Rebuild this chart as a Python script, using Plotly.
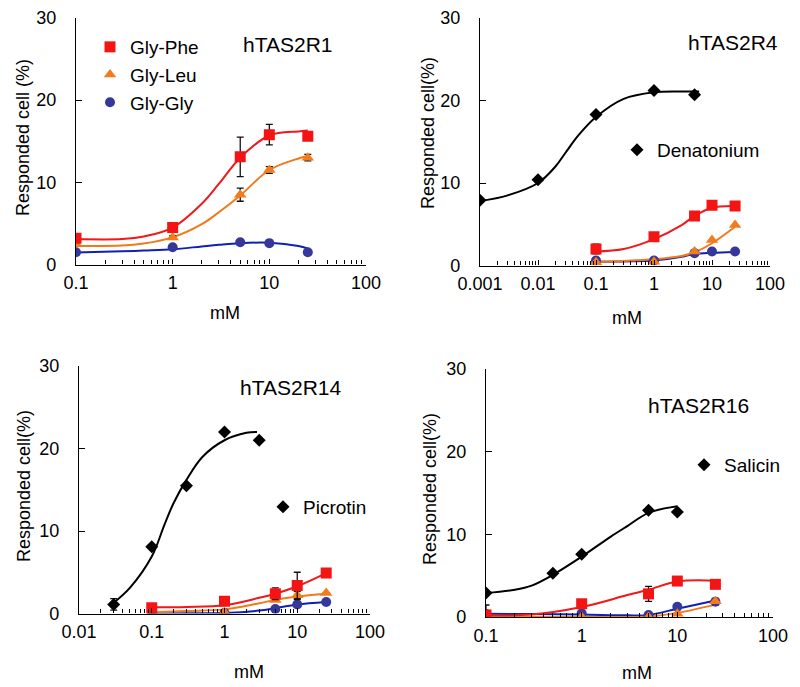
import plotly.graph_objects as go

# ---------------- data ----------------
# common dipeptide concentrations (mM)
gly_conc = [0.1, 1, 5, 10, 25]
fit_conc_p1 = [0.1, 0.3, 0.5, 1, 2, 3, 5, 10, 20, 25]
fit_conc = [0.1, 0.3, 1, 3, 5, 10, 25]

# Panel 1: hTAS2R1
r1_phe = [3.2, 4.5, 13.1, 15.8, 15.6]
r1_phe_err = [0, 0.3, 2.4, 1.25, 0.3]
r1_leu = [2.5, 3.3, 8.5, 11.5, 13.0]
r1_leu_err = [0, 0.2, 0.8, 0.4, 0.4]
r1_gly = [1.5, 2.1, 2.7, 2.6, 1.5]
r1_phe_fit = [3.1, 3.1, 3.4, 4.5, 7.4, 9.8, 13.0, 15.7, 16.2, 16.3]
r1_leu_fit = [2.25, 2.3, 2.55, 3.3, 4.9, 6.35, 8.4, 11.5, 12.9, 13.2]
r1_gly_fit = [1.45, 1.6, 1.7, 1.85, 2.2, 2.4, 2.6, 2.65, 2.25, 1.95]

# Panel 2: hTAS2R4
den_conc = [0.001, 0.01, 0.1, 1, 5]
den_resp = [7.9, 10.4, 18.3, 21.2, 20.7]
den_fit_conc = [0.001, 0.003, 0.01, 0.02, 0.03, 0.05, 0.1, 0.3, 1, 3, 6]
den_fit = [7.8, 8.5, 10.0, 12.0, 13.7, 15.8, 18.0, 20.2, 21.0, 21.1, 21.1]
r4_phe = [2.0, 3.5, 6.0, 7.3, 7.2]
r4_phe_err = [0.6, 0, 0, 0, 0]
r4_leu = [0.4, 0.45, 1.7, 3.1, 4.9]
r4_gly = [0.6, 0.6, 1.5, 1.7, 1.7]
r4_phe_fit = [1.7, 2.0, 3.2, 4.9, 6.0, 7.0, 7.2]
r4_leu_fit = [0.45, 0.55, 0.75, 1.15, 1.6, 2.7, 4.7]
r4_gly_fit = [0.45, 0.5, 0.6, 1.05, 1.4, 1.55, 1.65]

# Panel 3: hTAS2R14
pic_conc = [0.03, 0.1, 0.3, 1, 3]
pic_resp = [1.1, 8.1, 15.5, 22.0, 21.0]
pic_err = [0.7, 0, 0, 0, 0]
pic_fit_conc = [0.03, 0.05, 0.1, 0.15, 0.2, 0.3, 0.5, 1, 2, 2.8]
pic_fit = [1.3, 3.1, 6.9, 10.8, 13.4, 16.2, 19.0, 21.0, 21.9, 22.0]
r14_phe = [0.7, 1.5, 2.4, 3.4, 4.9]
r14_phe_err = [0, 0, 0.7, 1.6, 0]
r14_leu = [0.0, 0.15, 1.65, 2.2, 2.5]
r14_leu_err = [0, 0, 0, 0.5, 0]
r14_gly = [0.0, 0.05, 0.55, 1.1, 1.4]
r14_phe_fit = [0.75, 0.8, 1.0, 1.9, 2.4, 3.3, 4.9]
r14_leu_fit = [0.15, 0.3, 0.5, 1.25, 1.65, 2.05, 2.4]
r14_gly_fit = [0.0, 0.02, 0.05, 0.35, 0.65, 1.1, 1.4]

# Panel 4: hTAS2R16
sal_conc = [0.1, 0.5, 1, 5, 10]
sal_resp = [2.9, 5.3, 7.6, 12.9, 12.7]
sal_fit_conc = [0.1, 0.2, 0.3, 0.5, 1, 2, 3, 5, 10]
sal_fit = [2.9, 3.3, 3.8, 5.1, 7.3, 9.7, 11.0, 12.6, 13.4]
r16_phe = [0.25, 1.6, 2.8, 4.35, 3.95]
r16_phe_err = [1.2, 0, 0.9, 0, 0]
r16_leu = [0.0, 0.0, 0.0, 0.4, 1.9]
r16_gly = [0.36, 0.45, 0.25, 1.25, 1.85]
r16_gly_err = [0, 0, 0, 0, 0.4]
r16_phe_fit = [0.2, 0.3, 1.2, 2.65, 3.3, 4.3, 4.4]
r16_leu_fit = [0.05, 0.03, 0.0, 0.0, 0.05, 0.5, 1.5]
r16_gly_fit = [0.4, 0.35, 0.3, 0.2, 0.25, 1.0, 2.0]

# axis ticks
y_ticks = [0, 10, 20, 30]
x_ticks_p1 = [0.1, 1, 10, 100]
x_labels_p1 = ["0.1", "1", "10", "100"]
x_ticks_p2 = [0.001, 0.01, 0.1, 1, 10, 100]
x_labels_p2 = ["0.001", "0.01", "0.1", "1", "10", "100"]
x_ticks_p3 = [0.01, 0.1, 1, 10, 100]
x_labels_p3 = ["0.01", "0.1", "1", "10", "100"]
x_ticks_p4 = [0.1, 1, 10, 100]
x_labels_p4 = ["0.1", "1", "10", "100"]

panel_titles = ["hTAS2R1", "hTAS2R4", "hTAS2R14", "hTAS2R16"]
y_titles = ["Responded cell (%)", "Responded cell(%)", "Responded cell(%)", "Responded cell(%)"]
x_title = "mM"
series_names = ["Gly-Phe", "Gly-Leu", "Gly-Gly"]

# ---------------- styling ----------------
FONT = "Liberation Sans, Arial, Helvetica, sans-serif"
RED_M, RED_L = "#f41414", "#f01818"
ORG_M, ORG_L = "#f47a1c", "#f07a1a"
BLU_M, BLU_L = "#35379a", "#1020b4"
BLK = "#000000"
W, H = 800, 687
OFF = 8  # the page body adds an 8px margin; positions below are window pixels


def px_x(p):
    return (p - OFF) / W


def px_y(p):
    return 1 - (p - OFF) / H


fig = go.Figure()


def minor_vals(lo, hi):
    vals = []
    e = lo
    while e < hi:
        for m in range(2, 10):
            vals.append(m * 10 ** e)
        e += 1
    return vals


def add_curve(xs, ys, color, ax):
    fig.add_trace(go.Scatter(x=xs, y=ys, mode="lines", line=dict(color=color, width=2, shape="spline", smoothing=1.0),
                             xaxis=ax[0], yaxis=ax[1], showlegend=False, hoverinfo="skip"))


def add_pts(xs, ys, color, symbol, ax, name, err=None, legend=None, size=10):
    kw = {}
    if err is not None:
        kw["error_y"] = dict(type="data", array=err, visible=True, color="#111111", thickness=1.3, width=3.5)
    fig.add_trace(go.Scatter(x=xs, y=ys, mode="markers", name=name,
                             marker=dict(color=color, symbol=symbol, size=size, line=dict(width=0)),
                             xaxis=ax[0], yaxis=ax[1], showlegend=legend is not None,
                             legend=legend if legend else "legend", **kw))


A1, A2, A3, A4 = ("x", "y"), ("x2", "y2"), ("x3", "y3"), ("x4", "y4")
SQ, TR, CI = 11, 11, 10

# Panel 1
add_curve(fit_conc_p1, r1_gly_fit, BLU_L, A1)
add_curve(fit_conc_p1, r1_leu_fit, ORG_L, A1)
add_curve(fit_conc_p1, r1_phe_fit, RED_L, A1)
add_pts(gly_conc, r1_gly, BLU_M, "circle", A1, series_names[2], size=CI)
add_pts(gly_conc, r1_leu, ORG_M, "triangle-up", A1, series_names[1], r1_leu_err, size=TR)
add_pts(gly_conc, r1_phe, RED_M, "square", A1, series_names[0], r1_phe_err, size=SQ)

# Panel 2
add_curve(den_fit_conc, den_fit, BLK, A2)
add_curve(fit_conc, r4_gly_fit, BLU_L, A2)
add_curve(fit_conc, r4_leu_fit, ORG_L, A2)
add_curve(fit_conc, r4_phe_fit, RED_L, A2)
add_pts(den_conc, den_resp, BLK, "diamond", A2, "Denatonium", legend="legend2")
add_pts(gly_conc, r4_gly, BLU_M, "circle", A2, series_names[2], size=CI)
add_pts(gly_conc, r4_leu, ORG_M, "triangle-up", A2, series_names[1], size=TR)
add_pts(gly_conc, r4_phe, RED_M, "square", A2, series_names[0], r4_phe_err, size=SQ)

# Panel 3
add_curve(pic_fit_conc, pic_fit, BLK, A3)
add_curve(fit_conc, r14_gly_fit, BLU_L, A3)
add_curve(fit_conc, r14_leu_fit, ORG_L, A3)
add_curve(fit_conc, r14_phe_fit, RED_L, A3)
add_pts(pic_conc, pic_resp, BLK, "diamond", A3, "Picrotin", pic_err, legend="legend3")
add_pts(gly_conc, r14_gly, BLU_M, "circle", A3, series_names[2], size=CI)
add_pts(gly_conc, r14_leu, ORG_M, "triangle-up", A3, series_names[1], r14_leu_err, size=TR)
add_pts(gly_conc, r14_phe, RED_M, "square", A3, series_names[0], r14_phe_err, size=SQ)

# Panel 4
add_curve(sal_fit_conc, sal_fit, BLK, A4)
add_curve(fit_conc, r16_gly_fit, BLU_L, A4)
add_curve(fit_conc, r16_leu_fit, ORG_L, A4)
add_curve(fit_conc, r16_phe_fit, RED_L, A4)
add_pts(sal_conc, sal_resp, BLK, "diamond", A4, "Salicin", legend="legend4")
add_pts(gly_conc, r16_gly, BLU_M, "circle", A4, series_names[2], r16_gly_err, size=CI)
add_pts(gly_conc, r16_leu, ORG_M, "triangle-up", A4, series_names[1], size=TR)
add_pts(gly_conc, r16_phe, RED_M, "square", A4, series_names[0], r16_phe_err, size=SQ)

# legend for panel 1: show only the Gly traces of panel 1
for tr in fig.data:
    if tr.xaxis == "x" and tr.mode == "markers":
        tr.showlegend = True
        tr.legend = "legend"
        tr.legendrank = series_names.index(tr.name)

# ---------------- axes ----------------
# pixel geometry of each panel: (x_left, x_right, y_bottom, y_top)
geo = {
    1: (76, 366, 264.5, 18),
    2: (480, 770, 265.5, 18),
    3: (79, 370, 613.5, 366),
    4: (486, 773, 617, 369),
}
xt = {1: (x_ticks_p1, x_labels_p1, -1, 2), 2: (x_ticks_p2, x_labels_p2, -3, 2),
      3: (x_ticks_p3, x_labels_p3, -2, 2), 4: (x_ticks_p4, x_labels_p4, -1, 2)}

tickfont = dict(family=FONT, size=18, color="black")
layout_axes = {}
for k in range(1, 5):
    xl, xr, yb, ytp = geo[k]
    tv, tt, lo, hi = xt[k]
    sx = "" if k == 1 else str(k)
    layout_axes["xaxis" + sx] = dict(
        domain=[px_x(xl), px_x(xr)], anchor="y" + sx, type="log", range=[lo, hi], automargin=False,
        tickmode="array", tickvals=tv, ticktext=tt, ticks="inside", ticklen=5, tickwidth=1.2,
        tickcolor="black", showline=True, linecolor="black", linewidth=1.3, showgrid=False,
        zeroline=False, tickfont=tickfont, ticklabelstandoff=2, ticklabeloverflow="allow",
        minor=dict(tickmode="array", tickvals=minor_vals(lo, hi), ticks="inside", ticklen=4,
                   tickwidth=1.1, tickcolor="black", showgrid=False),
    )
    layout_axes["yaxis" + sx] = dict(
        domain=[px_y(yb), px_y(ytp)], anchor="x" + sx, range=[0, 30], tickmode="array", automargin=False,
        tickvals=y_ticks, ticks="inside", ticklen=6, tickwidth=1.2, tickcolor="black",
        showline=True, linecolor="black", linewidth=1.3, showgrid=False, zeroline=False,
        tickfont=tickfont, ticklabelstandoff=15, ticklabeloverflow="allow",
    )

# ---------------- annotations ----------------
ann = []
title_pos = [(288, 44), (733, 43), (290, 387), (698, 405)]
ytitle_pos = [(23, 138), (428, 133), (24, 486), (430, 489)]
xtitle_pos = [(225, 313), (627, 318), (249, 672), (637, 673)]
for i in range(4):
    ann.append(dict(text=panel_titles[i], x=px_x(title_pos[i][0]), y=px_y(title_pos[i][1]), xref="paper",
                    yref="paper", showarrow=False, xanchor="center", yanchor="middle",
                    font=dict(family=FONT, size=21, color="black")))
    ann.append(dict(text=y_titles[i], x=px_x(ytitle_pos[i][0]), y=px_y(ytitle_pos[i][1]), xref="paper",
                    yref="paper", showarrow=False, xanchor="center", yanchor="middle", textangle=-90,
                    font=dict(family=FONT, size=18, color="black")))
    ann.append(dict(text=x_title, x=px_x(xtitle_pos[i][0]), y=px_y(xtitle_pos[i][1]), xref="paper",
                    yref="paper", showarrow=False, xanchor="center", yanchor="middle",
                    font=dict(family=FONT, size=18, color="black")))

legfont = dict(family=FONT, size=19, color="black")


def leg(xp, yp, anchor="top"):
    return dict(x=px_x(xp), y=px_y(yp), xanchor="left", yanchor=anchor, font=legfont,
                bgcolor="rgba(0,0,0,0)", borderwidth=0, itemwidth=30, traceorder="normal",
                itemclick=False, itemdoubleclick=False)


fig.update_layout(
    width=W, height=H, margin=dict(l=0, r=0, t=0, b=0, autoexpand=False),
    plot_bgcolor="white", paper_bgcolor="white",
    showlegend=True, annotations=ann,
    legend=leg(90, 28),
    legend2=leg(617, 150, "middle"),
    legend3=leg(263, 507, "middle"),
    legend4=leg(684, 465, "middle"),
    **layout_axes,
)

fig.write_html("out.html")
